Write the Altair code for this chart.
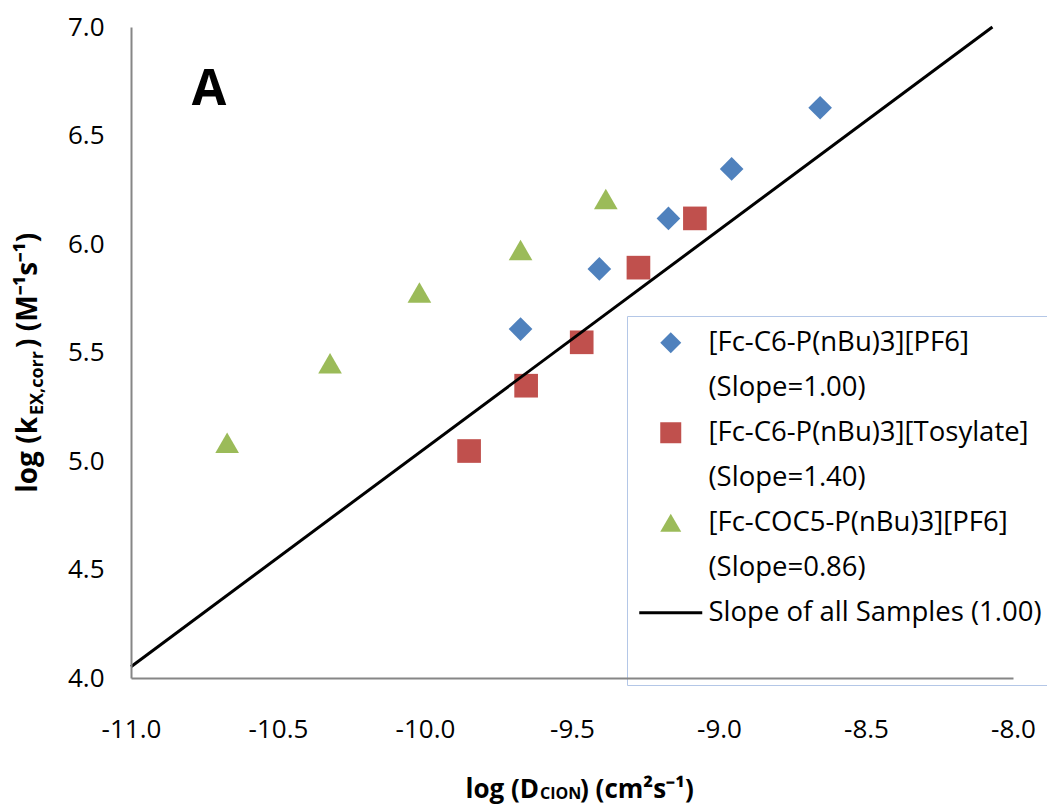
import altair as alt
import pandas as pd

# ---------------- data ----------------
series_names = ["[Fc-C6-P(nBu)3][PF6]", "[Fc-C6-P(nBu)3][Tosylate]", "[Fc-COC5-P(nBu)3][PF6]"]
slope_texts = ["(Slope=1.00)", "(Slope=1.40)", "(Slope=0.86)"]
fit_name = "Slope of all Samples (1.00)"

pf6_x = [-9.675, -9.407, -9.172, -8.957, -8.656]
pf6_y = [5.608, 5.885, 6.118, 6.346, 6.628]

tos_x = [-9.850, -9.656, -9.467, -9.274, -9.082]
tos_y = [5.046, 5.347, 5.547, 5.891, 6.118]

coc_x = [-10.673, -10.323, -10.019, -9.675, -9.385]
coc_y = [5.084, 5.450, 5.776, 5.972, 6.207]

fit_x = [-11.0, -8.07]
fit_y = [4.052, 7.0]

x_tick_values = [-11.0, -10.5, -10.0, -9.5, -9.0, -8.5, -8.0]
y_tick_values = [4.0, 4.5, 5.0, 5.5, 6.0, 6.5, 7.0]

panel_text = ["A"]
panel_x = [-10.735]
panel_y = [6.64]

x_title_parts = ["log (D", "CION", ") (cm\u00b2s\u207b\u00b9)"]
y_title_parts = ["log (k", "EX,corr", ") (M\u207b\u00b9s\u207b\u00b9)"]

series_colors = ["#4F81BD", "#C0504D", "#9BBB59"]
series_shapes = ["diamond", "square", "triangle-up"]

# ---------------- tables ----------------
rows = []
for name, xs, ys in zip(series_names, [pf6_x, tos_x, coc_x], [pf6_y, tos_y, coc_y]):
    for xv, yv in zip(xs, ys):
        rows.append({"series": name, "x": xv, "y": yv})
points_df = pd.DataFrame(rows)
fit_df = pd.DataFrame({"x": fit_x, "y": fit_y})
panel_df = pd.DataFrame({"x": panel_x, "y": panel_y, "t": panel_text})

pad_label = " " * 56
empty_path = "M0,0"
line_path = "M-3,-0.14H3V0.14H-3Z"
legend_domain = [series_names[0], slope_texts[0], series_names[1], slope_texts[1],
                 series_names[2], slope_texts[2], fit_name, pad_label]
legend_colors = [series_colors[0], "transparent", series_colors[1], "transparent",
                 series_colors[2], "transparent", "#000000", "transparent"]
legend_shapes = [series_shapes[0], empty_path, series_shapes[1], empty_path,
                 series_shapes[2], empty_path, line_path, empty_path]

FONT = "Open Sans"

xscale = alt.Scale(domain=[-11.0, -8.0], nice=False, zero=False)
yscale = alt.Scale(domain=[4.0, 7.0], nice=False, zero=False)

lab_expr = "(datum.value < 0 ? '-' : '') + format(abs(datum.value), '.1f')"
x_axis = alt.Axis(values=x_tick_values, labelExpr=lab_expr, title=None, grid=False,
                  ticks=False, tickSize=0, labelPadding=38, labelFont=FONT, labelFontSize=26,
                  labelColor="#000000", domainColor="#868686", domainWidth=2, zindex=2,
                  labelFlush=False, labelOverlap=False)
y_axis = alt.Axis(values=y_tick_values, labelExpr=lab_expr, title=None, grid=False,
                  ticks=False, tickSize=0, labelPadding=27, labelFont=FONT, labelFontSize=26,
                  labelColor="#000000", domainColor="#868686", domainWidth=2, zindex=2,
                  labelFlush=False, labelOverlap=False)

legend = alt.Legend(
    title=None, orient="none", legendX=496, legendY=289, padding=13,
    rowPadding=16, symbolSize=441, symbolOffset=17, labelOffset=24,
    symbolStrokeWidth=0, symbolOpacity=1,
    labelFont=FONT, labelFontSize=27.5, labelColor="#000000", labelLimit=2000,
    labelBaseline="middle",
    fillColor="#FFFFFF", strokeColor="#B4C7E7", zindex=1,
)

points = alt.Chart(points_df).mark_point(filled=True, size=560, opacity=1, strokeWidth=0).encode(
    x=alt.X("x:Q", scale=xscale, axis=x_axis),
    y=alt.Y("y:Q", scale=yscale, axis=y_axis),
    color=alt.Color("series:N", scale=alt.Scale(domain=legend_domain, range=legend_colors), legend=legend),
    shape=alt.Shape("series:N", scale=alt.Scale(domain=legend_domain, range=legend_shapes), legend=legend),
)

fit = alt.Chart(fit_df).mark_line(color="#000000", strokeWidth=3).encode(
    x=alt.X("x:Q", scale=xscale),
    y=alt.Y("y:Q", scale=yscale),
)

panel = alt.Chart(panel_df).mark_text(font=FONT, fontSize=50, fontWeight="bold", align="center",
                                      baseline="alphabetic", color="#000000").encode(
    x=alt.X("x:Q", scale=xscale),
    y=alt.Y("y:Q", scale=yscale),
    text="t:N",
)


def piece(txt, px, py, size, align, angle=0):
    return alt.Chart(pd.DataFrame({"t": [txt]})).mark_text(
        font=FONT, fontSize=size, fontWeight="bold", align=align, baseline="alphabetic",
        angle=angle, color="#000000"
    ).encode(x=alt.value(px), y=alt.value(py), text="t:N")


titles = [
    piece(x_title_parts[0], 408, 771, 26, "right"),
    piece(x_title_parts[1], 409, 772, 16, "left"),
    piece(x_title_parts[2], 449, 771, 26, "left"),
    piece(y_title_parts[0], -94, 390, 28, "right", 270),
    piece(y_title_parts[1], -88, 388, 18, "left", 270),
    piece(y_title_parts[2], -94, 321, 28, "left", 270),
]

chart = alt.layer(points, fit, panel, *titles).properties(
    width=882, height=651,
    autosize=alt.AutoSizeParams(type="none"),
    padding={"left": 131, "top": 27, "right": 34, "bottom": 127},
    background="#FFFFFF",
).configure_view(stroke=None)

chart.save("out.html", embed_options={"renderer": "svg", "actions": False})
